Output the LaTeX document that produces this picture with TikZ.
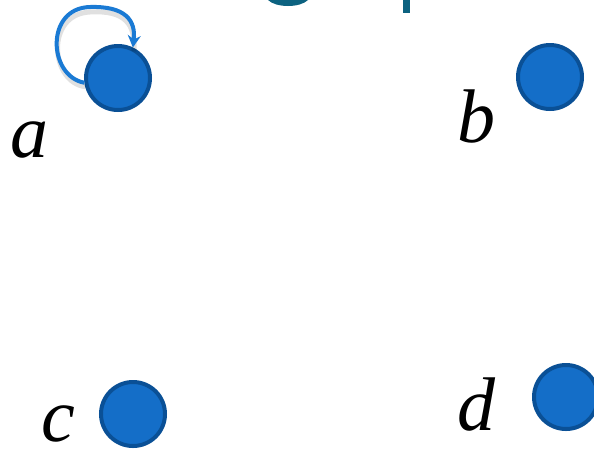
\documentclass[tikz,border=0pt]{standalone}
\usepackage{fontspec}
\setmainfont{Liberation Serif}
\usetikzlibrary{arrows.meta}
\definecolor{nodefill}{RGB}{20,110,200}
\definecolor{nodeline}{RGB}{10,80,150}
\definecolor{loopblue}{RGB}{26,122,212}
\definecolor{titleteal}{RGB}{12,98,128}
\tikzset{
  vert/.style={circle, fill=nodefill, draw=nodeline, line width=4pt, minimum size=64pt, inner sep=0pt},
  lab/.style={anchor=base west, inner sep=0pt, font=\fontsize{76}{80}\selectfont\itshape},
  loopst/.style={draw=loopblue, line width=4pt, line join=round, -{Stealth[length=12pt,width=13pt]}},
  loopshadow/.style={draw=black, opacity=0.12, line width=5pt}
}
\begin{document}
\begin{tikzpicture}[x=1pt,y=-1pt]
\useasboundingbox (0,0) rectangle (594,451);
\fill[white] (0,0) rectangle (594,451);
% clipped title fragments
\fill[titleteal] (268,0) .. controls (276,8) and (300,8) .. (308,0) -- cycle;
\fill[titleteal] (403,0) rectangle (410,13);
% vertices
\node[vert] (a) at (118,78) {};
\node[vert] (b) at (550,77) {};
\node[vert] (c) at (133,414) {};
\node[vert] (d) at (566,397) {};
% labels
\node[lab] (la) at (10,157) {a};
\node[lab] (lb) at (457,142) {b};
\node[lab] (lc) at (41,441) {c};
\node[lab] (ld) at (457,430) {d};
% self-loop
\draw[loopshadow] ([shift={(1,4)}]a.188) .. controls (50,82) and (45,14) .. (90,12) .. controls (125,10) and (136,24) .. ([shift={(1,4)}]a.64);
\draw[loopst] (a.188) .. controls (48,76) and (45,8) .. (90,7) .. controls (125,6) and (136,20) .. (a.64);
\end{tikzpicture}
\end{document}
